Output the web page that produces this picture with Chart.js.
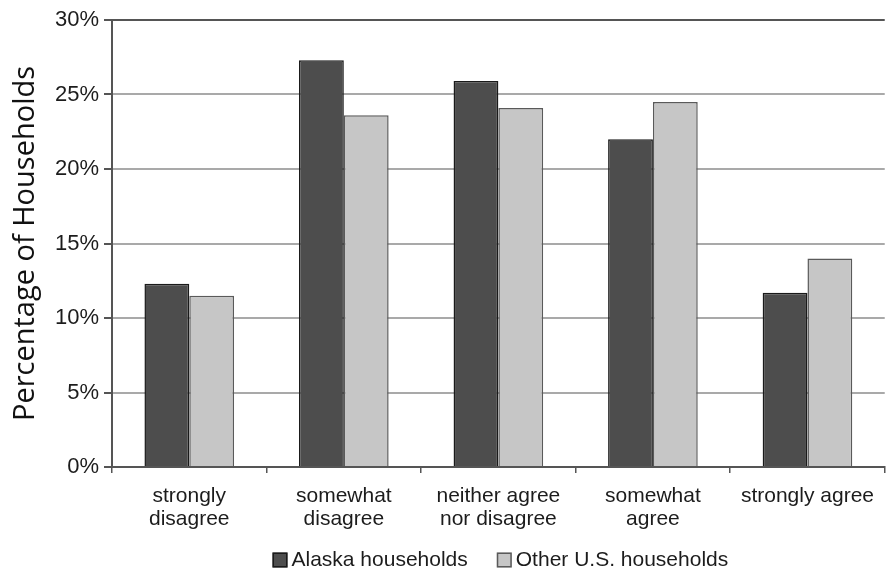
<!DOCTYPE html>
<html>
<head>
<meta charset="utf-8">
<script src="https://cdn.jsdelivr.net/npm/chart.js@4/dist/chart.umd.min.js"></script>
<style>
  html, body { margin: 0; padding: 0; background: #ffffff; }
  #wrap { width: 886px; height: 571px; }
</style>
</head>
<body>
<div id="wrap"><canvas id="chart" width="886" height="571"></canvas></div>
<script>
// Survey response categories (x axis)
const categories = [
  ['strongly', 'disagree'],
  ['somewhat', 'disagree'],
  ['neither agree', 'nor disagree'],
  ['somewhat', 'agree'],
  'strongly agree'
];

// Share of households (%) giving each response
const alaskaHouseholds = [12.3, 27.3, 25.9, 22.0, 11.7];
const otherUSHouseholds = [11.5, 23.6, 24.1, 24.5, 14.0];

// Series names
const seriesNames = ['Alaska households', 'Other U.S. households'];

// Y axis tick range (%)
const yMin = 0, yMax = 30, yStep = 5;

const axisColor = '#555555';
const gridColor = '#a9a9a9';
const textColor = '#1c1c1c';
const sansFamily = '"Liberation Sans", Arial, sans-serif';

// Legend drawn under the axis labels, square swatch + label
const bottomLegend = {
  id: 'bottomLegend',
  afterDraw(chart) {
    const ctx = chart.ctx;
    const area = chart.chartArea;
    const box = 15, gap = 4, spacing = 29;
    ctx.save();
    ctx.font = '21px ' + sansFamily;
    ctx.textBaseline = 'middle';
    const items = chart.data.datasets.map(ds => ({
      text: ds.label, fill: ds.backgroundColor, stroke: ds.borderColor,
      w: ctx.measureText(ds.label).width
    }));
    let total = 0;
    items.forEach((it, i) => { total += box + gap + it.w + (i ? spacing : 0); });
    let x = (area.left + area.right) / 2 + 2 - total / 2;
    const cy = 560;
    items.forEach(it => {
      ctx.fillStyle = it.fill;
      ctx.fillRect(x, cy - box / 2, box, box);
      ctx.lineWidth = 1.5;
      ctx.strokeStyle = it.stroke;
      ctx.strokeRect(x + 0.75, cy - box / 2 + 0.75, box - 1.5, box - 1.5);
      ctx.fillStyle = textColor;
      ctx.textAlign = 'left';
      ctx.fillText(it.text, x + box + gap, cy);
      x += box + gap + it.w + spacing;
    });
    ctx.restore();
  }
};

new Chart(document.getElementById('chart'), {
  type: 'bar',
  data: {
    labels: categories,
    datasets: [
      {
        label: seriesNames[0],
        data: alaskaHouseholds,
        backgroundColor: '#4d4d4d',
        borderColor: '#1a1a1a',
        borderWidth: 1.5,
        borderSkipped: 'bottom'
      },
      {
        label: seriesNames[1],
        data: otherUSHouseholds,
        backgroundColor: '#c6c6c6',
        borderColor: '#5a5a5a',
        borderWidth: 1.5,
        borderSkipped: 'bottom'
      }
    ]
  },
  options: {
    responsive: false,
    devicePixelRatio: 1,
    animation: false,
    layout: { padding: { top: 20, right: 0, bottom: 34, left: 0 } },
    plugins: {
      legend: { display: false },
      tooltip: { enabled: false },
      title: { display: false }
    },
    datasets: {
      bar: { categoryPercentage: 0.58, barPercentage: 1.0 }
    },
    scales: {
      x: {
        offset: true,
        grid: {
          offset: true,
          drawOnChartArea: false,
          drawTicks: true,
          tickLength: 6,
          color: axisColor,
          lineWidth: 1.5
        },
        border: { display: true, color: axisColor, width: 2 },
        ticks: {
          color: textColor,
          font: { family: sansFamily, size: 21, lineHeight: 1.1 },
          padding: 12,
          maxRotation: 0,
          autoSkip: false
        },
        afterFit(scale) { scale.height = 70; }
      },
      y: {
        min: yMin,
        max: yMax,
        grid: {
          color: ctx => (ctx.tick && (ctx.tick.value === yMax || ctx.tick.value === yMin)) ? axisColor : gridColor,
          lineWidth: 2,
          tickLength: 8,
          tickColor: axisColor
        },
        border: { display: true, color: axisColor, width: 2 },
        ticks: {
          stepSize: yStep,
          color: textColor,
          font: { family: sansFamily, size: 22 },
          padding: 5,
          callback: v => v + '%'
        },
        title: {
          display: true,
          text: 'Percentage of Households',
          color: '#111111',
          font: { family: '"Open Sans", "Noto Sans", sans-serif', size: 29, weight: 'normal', lineHeight: 1.2 },
          padding: { top: 8, bottom: 0 }
        },
        afterFit(scale) { scale.width = 112; }
      }
    }
  },
  plugins: [bottomLegend]
});
</script>
</body>
</html>
